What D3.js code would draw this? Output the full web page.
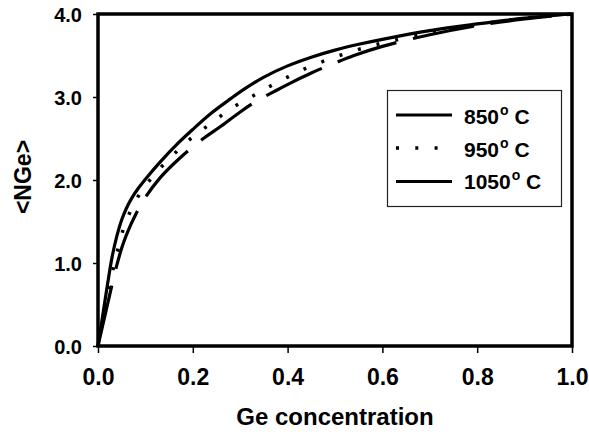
<!DOCTYPE html>
<html><head><meta charset="utf-8">
<script src="https://cdn.jsdelivr.net/npm/d3@7"></script>
<style>
html,body{margin:0;padding:0;background:#fff;}
text{font-family:"Liberation Sans",Arial,sans-serif;font-weight:bold;fill:#000;}
</style></head>
<body>
<svg id="chart" width="589" height="434"></svg>
<script>
const seriesNames = ["850", "950", "1050"];
const xTicks = [0, 0.2, 0.4, 0.6, 0.8, 1.0];
const yTicks = [0, 1, 2, 3, 4];
const xLabel = "Ge concentration";
const yLabel = "<NGe>";

const x850 = [0,0.01,0.02,0.03,0.04,0.05,0.06,0.07,0.085,0.10,0.13,0.17,0.20,0.24,0.28,0.31,0.35,0.40,0.45,0.50,0.55,0.60,0.70,0.80,0.90,1.0];
const y850 = [0,0.37,0.74,1.08,1.33,1.52,1.66,1.77,1.90,2.01,2.21,2.45,2.61,2.81,2.98,3.10,3.24,3.375,3.48,3.565,3.635,3.695,3.80,3.88,3.95,4.0];

const x950 = [0,0.01,0.02,0.03,0.04,0.053,0.068,0.09,0.12,0.158,0.198,0.238,0.278,0.32,0.36,0.40,0.44,0.48,0.52,0.56,0.60,0.70,0.80,0.90,1.0];
const y950 = [0,0.30,0.60,0.88,1.12,1.40,1.62,1.85,2.07,2.30,2.51,2.68,2.85,2.99,3.12,3.24,3.35,3.44,3.52,3.59,3.65,3.77,3.87,3.95,4.0];

const x1050 = [0,0.01,0.02,0.03,0.04,0.05,0.06,0.08,0.10,0.13,0.17,0.22,0.26,0.30,0.34,0.38,0.41,0.45,0.50,0.54,0.60,0.70,0.80,0.90,1.0];
const y1050 = [0,0.25,0.50,0.75,0.98,1.18,1.34,1.59,1.79,2.02,2.25,2.49,2.65,2.82,2.97,3.09,3.18,3.29,3.41,3.50,3.61,3.75,3.86,3.94,4.0];

const dashes = ["none", "3,16.3", "62,17"];

const svg = d3.select("#chart");
const L = 98, R = 572, T = 14, B = 346;
const x = d3.scaleLinear().domain([0, 1]).range([L, R]);
const y = d3.scaleLinear().domain([0, 4]).range([B, T]);

// Axes
const xAxis = svg.append("g").attr("transform", `translate(0,${B})`)
  .call(d3.axisBottom(x).tickValues(xTicks).tickSize(7).tickSizeOuter(0).tickFormat(d3.format(".1f")));
xAxis.select(".domain").remove();
xAxis.selectAll(".tick line").attr("stroke", "#000").attr("stroke-width", 1.5);
xAxis.selectAll(".tick text").attr("y", 39).attr("dy", 0).attr("font-size", 23);

const yAxis = svg.append("g").attr("transform", `translate(${L},0)`)
  .call(d3.axisLeft(y).tickValues(yTicks).tickSize(5).tickSizeOuter(0).tickPadding(11).tickFormat(d3.format(".1f")));
yAxis.select(".domain").remove();
yAxis.selectAll(".tick line").attr("stroke", "#000").attr("stroke-width", 1.5);
yAxis.selectAll(".tick text").attr("font-size", 20).attr("dy", "0.36em");

// Frame
svg.append("rect").attr("x", L).attr("y", T).attr("width", R - L).attr("height", B - T)
  .attr("fill", "none").attr("stroke", "#000").attr("stroke-width", 3.5);

// Series
const line = d3.line().x(d => x(d[0])).y(d => y(d[1])).curve(d3.curveCatmullRom.alpha(0.5));
const series = [d3.zip(x850, y850), d3.zip(x950, y950), d3.zip(x1050, y1050)];
series.forEach((s, i) => {
  svg.append("path").datum(s).attr("d", line)
    .attr("fill", "none").attr("stroke", "#000").attr("stroke-width", i === 1 ? 3.5 : 3.2)
    .attr("stroke-dasharray", dashes[i]);
});

// Axis titles
svg.append("text").attr("x", (L + R) / 2).attr("y", 425).attr("text-anchor", "middle")
  .attr("font-size", 24).text(xLabel);
svg.append("text").attr("transform", "translate(31,177) rotate(-90)").attr("text-anchor", "middle")
  .attr("font-size", 23).text(yLabel);

// Legend
svg.append("rect").attr("x", 387.5).attr("y", 90.5).attr("width", 174).attr("height", 116)
  .attr("fill", "#fff").attr("stroke", "#222").attr("stroke-width", 1.2);
const legY = [115, 148, 181.5];
const legBase = [124, 157, 189];
seriesNames.forEach((n, i) => {
  svg.append("line").attr("x1", 396).attr("x2", i === 1 ? 440 : 452)
    .attr("y1", legY[i]).attr("y2", legY[i])
    .attr("stroke", "#000").attr("stroke-width", i === 1 ? 3.5 : 3.2)
    .attr("stroke-dasharray", i === 1 ? dashes[1] : "none");
  const t = svg.append("text").attr("x", 464).attr("y", legBase[i]).attr("font-size", 21);
  t.append("tspan").text(n);
  t.append("tspan").attr("font-size", 14).attr("dy", -9).attr("dx", 1).text("o");
  t.append("tspan").attr("dy", 9).text(" C");
});
</script>
</body></html>
